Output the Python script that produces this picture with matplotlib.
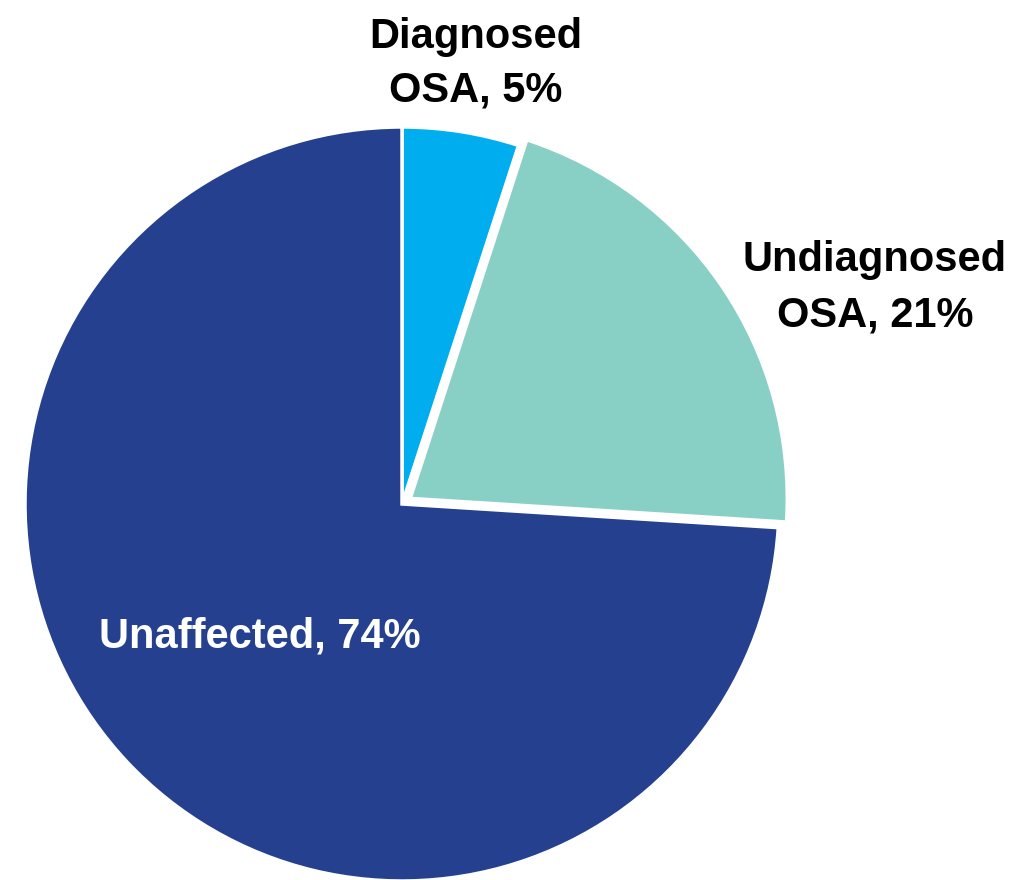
import matplotlib
matplotlib.use("Agg")
import matplotlib.pyplot as plt
from matplotlib import font_manager

# OSA prevalence shares
labels = ["Diagnosed\nOSA, 5%", "Undiagnosed\nOSA, 21%", "Unaffected, 74%"]
shares = [5, 21, 74]
colors = ["#00AEEF", "#88D0C5", "#25408F"]
explode = [0, 10, 0]  # in data units (pixels here)

names = {f.name for f in font_manager.fontManager.ttflist}
family = "Liberation Sans Narrow" if "Liberation Sans Narrow" in names else "Liberation Sans"
plt.rcParams["font.family"] = [family, "DejaVu Sans"]
fs = 32 if family == "Liberation Sans Narrow" else 30

fig = plt.figure(figsize=(10.32, 8.8), dpi=100)
ax = fig.add_axes([0, 0, 1, 1])

ax.pie(shares, colors=colors, explode=explode, startangle=90, counterclock=False,
       center=(402, 376), radius=377,
       wedgeprops=dict(edgecolor="white", linewidth=2.5))

# pie() resets the limits, so fix them afterwards (1 unit = 1 pixel)
ax.set_xlim(0, 1032)
ax.set_ylim(0, 880)
ax.set_aspect("equal")
ax.axis("off")

ax.text(476, 816, labels[0], ha="center", va="center", fontsize=fs,
        fontweight="bold", color="black", linespacing=1.45)
ax.text(875, 592, labels[1], ha="center", va="center", fontsize=fs,
        fontweight="bold", color="black", linespacing=1.5)
ax.text(260, 243, labels[2], ha="center", va="center", fontsize=fs,
        fontweight="bold", color="white")

fig.savefig("out.png", dpi=100)
